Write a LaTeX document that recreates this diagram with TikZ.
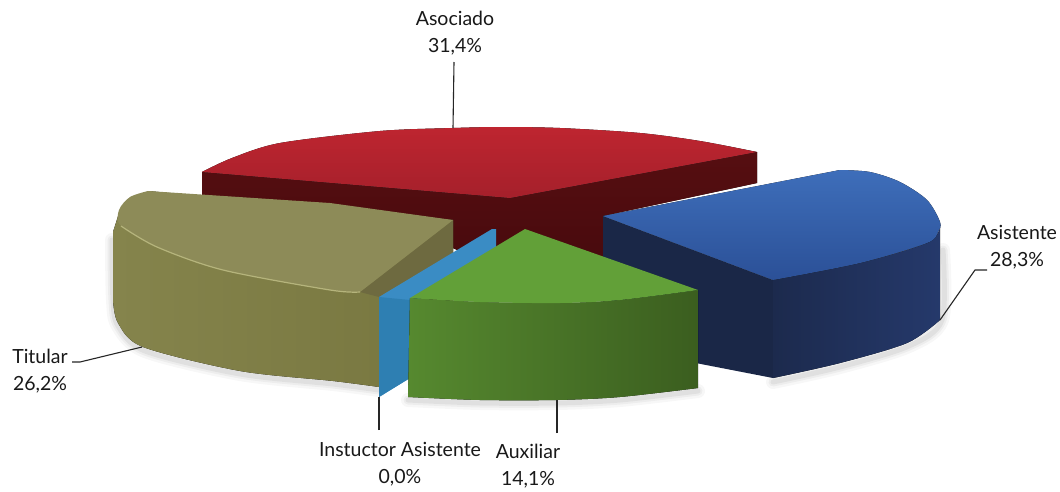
\documentclass[tikz,border=0pt]{standalone}
\usepackage{fontspec}
\setmainfont{Lato}
\begin{document}
\begin{tikzpicture}[x=1pt,y=-1pt,
  lbl/.style={font=\fontsize{19.5}{27.5}\selectfont, text=black!90, align=center, inner sep=0pt},
  leader/.style={draw=black!85, line width=1.1pt},
  shad/.style={line cap=round, line join=round, black},
]
\definecolor{cRedTopA}{HTML}{BE2530}
\definecolor{cRedTopB}{HTML}{A5202B}
\definecolor{cRedDark}{HTML}{560E11}
\definecolor{cRedDarkB}{HTML}{470A0D}
\definecolor{cOlTop}{HTML}{8D8B58}
\definecolor{cOlSideA}{HTML}{85844C}
\definecolor{cOlSideB}{HTML}{77763F}
\definecolor{cOlCut}{HTML}{6E6A40}
\definecolor{cOlLight}{HTML}{B5B47C}
\definecolor{cBlTopA}{HTML}{3E6EBA}
\definecolor{cBlTopB}{HTML}{2B5097}
\definecolor{cBlCut}{HTML}{1A2747}
\definecolor{cBlSideA}{HTML}{1C2A4D}
\definecolor{cBlSideB}{HTML}{25396B}
\definecolor{cGrTop}{HTML}{62A038}
\definecolor{cGrSideA}{HTML}{56892F}
\definecolor{cGrSideB}{HTML}{3B5E1F}
\definecolor{cSliv}{HTML}{3A8CC4}
\definecolor{cSlivD}{HTML}{2E7FB2}

\path[fill=white] (0,0) rectangle (1060,491);
\useasboundingbox (0,0) rectangle (1060,491);

% ---------- soft shadows
\foreach \w/\o in {14/0.03, 9/0.04, 5/0.05} {
  \draw[shad, line width=\w pt, opacity=\o] plot[smooth] coordinates {(112,240) (113,300) (118,326) (145,351) (240,374) (333,384) (379,390)};
  \draw[shad, line width=\w pt, opacity=\o] plot[smooth] coordinates {(943,250) (942,320) (909,346) (840,367) (773,382)};
  \draw[shad, line width=\w pt, opacity=\o] plot[smooth] coordinates {(408,400) (480,403) (557,403) (620,400) (698,391)};
}

% ---------- Asociado (red, back)
\fill[top color=cRedDark, bottom color=cRedDarkB] (202,172) -- (202,197) -- (440,242) -- (500,270) -- (603,270) -- (603,216) -- (757,183) -- (757,152) -- (510,198) -- cycle;
\fill[top color=cRedTopA, bottom color=cRedTopB] (202,172) -- (510,198) -- (757,152)
  -- plot[smooth] coordinates {(757,152) (700,141) (640,133) (560,128) (500,127) (453,128) (380,131) (280,143) (232,158) (202,172)} -- cycle;

% ---------- Titular (olive, left)
\fill[left color=cOlSideA, right color=cOlSideB] (148,191) -- (453,220) -- (453,330) -- (379,392)
  -- plot[smooth] coordinates {(379,387) (333,381) (240,371) (143,347) (118,323) (113,300)} -- (113,232) -- (120,210) -- cycle;
\fill[cOlCut] (453,220) -- (360,292) -- (379,297) -- (453,253) -- cycle;
\fill[cOlTop] (148,191) -- (330,203) -- (453,220) -- (360,292)
  -- plot[smooth] coordinates {(360,292) (330,290) (223,270) (157,247) (121,226) (119,210) (130,197) (148,191)} -- cycle;
\draw[cOlLight, line width=1.2pt] plot[smooth] coordinates {(360,292) (330,290) (223,270) (157,247) (121,226)};

% ---------- Asistente (blue, right)
\fill[cBlCut] (603,216) -- (773,280) -- (773,378) -- (603,345) -- cycle;
\fill[left color=cBlSideA, right color=cBlSideB] (773,280)
  -- plot[smooth] coordinates {(773,280) (860,263) (927,243) (940,228)} -- (940,320)
  -- plot[smooth] coordinates {(940,320) (907,343) (840,363) (773,378)} -- cycle;
\fill[top color=cBlTopA, bottom color=cBlTopB] (603,216) -- (840,170)
  -- plot[smooth] coordinates {(840,170) (870,172) (900,182) (927,200) (940,222) (938,232) (927,243) (860,263) (773,280)} -- cycle;

% ---------- Instuctor Asistente (sliver)
\fill[cSliv] (492,229) -- (496,229) -- (496,250) -- (410,305) -- (410,378) -- (379,397) -- (379,297) -- cycle;
\fill[cSlivD] (379,297) -- (410,300) -- (410,378) -- (379,397) -- cycle;

% ---------- Auxiliar (green, front)
\fill[left color=cGrSideA, right color=cGrSideB] (410,298)
  -- plot[smooth] coordinates {(410,298) (480,302) (560,303) (620,300) (698,290)} -- (698,388)
  -- plot[smooth] coordinates {(698,388) (620,397) (557,400) (480,400) (408,397)} -- cycle;
\fill[cGrTop] (525,229) -- (698,290)
  -- plot[smooth] coordinates {(698,290) (620,300) (560,303) (480,302) (410,298)} -- cycle;

% ---------- labels
\node[lbl] (asoc) at (455,33) {Asociado\\31,4\%};
\node[lbl] (asis) at (1017,247) {Asistente\\28,3\%};
\node[lbl] (titu) at (40,371) {Titular\\26,2\%};
\node[lbl] (inst) at (400,464) {Instuctor Asistente\\0,0\%};
\node[lbl] (auxi) at (528,466) {Auxiliar\\14,1\%};

\coordinate (asocA) at (454,62);
\coordinate (asocB) at (453,128);
\coordinate (asisA) at (987,270);
\coordinate (asisK) at (975,270);
\coordinate (asisB) at (940,320);
\coordinate (tituA) at (72,362);
\coordinate (tituK) at (80,362);
\coordinate (tituB) at (142,347);
\coordinate (instA) at (379,430);
\coordinate (instB) at (379,397);
\coordinate (auxiA) at (557,433);
\coordinate (auxiB) at (557,400);

\draw[leader] (asocA) -- (asocB);
\draw[leader] (asisA) -- (asisK) -- (asisB);
\draw[leader] (tituA) -- (tituK) -- (tituB);
\draw[leader] (instA) -- (instB);
\draw[leader] (auxiA) -- (auxiB);
\end{tikzpicture}
\end{document}
